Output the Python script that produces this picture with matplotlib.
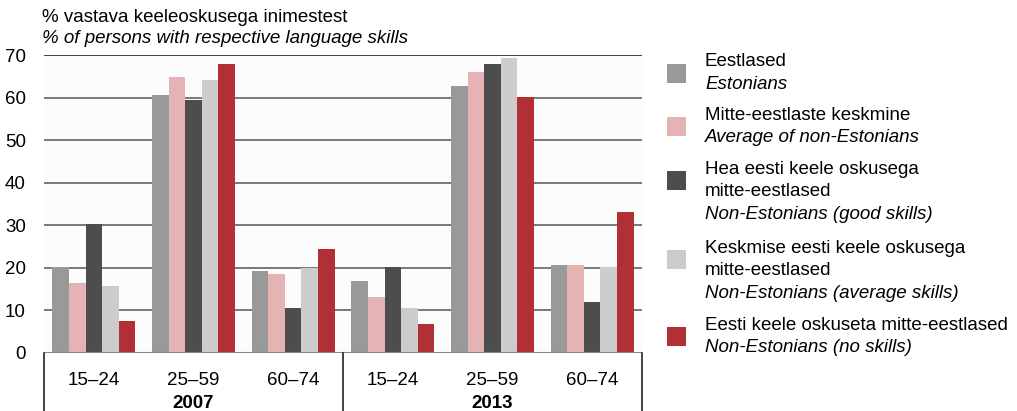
import matplotlib
matplotlib.use("Agg")
import matplotlib.pyplot as plt
import matplotlib.transforms as mtransforms
from matplotlib.patches import Rectangle
import numpy as np

plt.rcParams['font.family'] = ['Liberation Sans', 'DejaVu Sans']

# Data
years = ["2007", "2013"]
age_groups = ["15–24", "25–59", "60–74"]
legend_est = [
    "Eestlased",
    "Mitte-eestlaste keskmine",
    "Hea eesti keele oskusega\nmitte-eestlased",
    "Keskmise eesti keele oskusega\nmitte-eestlased",
    "Eesti keele oskuseta mitte-eestlased",
]
legend_eng = [
    "Estonians",
    "Average of non-Estonians",
    "Non-Estonians (good skills)",
    "Non-Estonians (average skills)",
    "Non-Estonians (no skills)",
]
colors = ["#999999", "#e5b3b3", "#4d4d4d", "#cccccc", "#b03035"]

# values per series, order: 2007 (15–24, 25–59, 60–74), 2013 (15–24, 25–59, 60–74)
estonians     = [20.1, 60.7, 19.2, 16.9, 62.6, 20.6]
non_est_avg   = [16.4, 64.9, 18.5, 13.1, 66.1, 20.6]
good_skills   = [30.3, 59.3, 10.5, 20.2, 68.0, 11.9]
avg_skills    = [15.7, 64.2, 20.0, 10.5, 69.4, 20.2]
no_skills     = [7.4, 68.0, 24.4, 6.7, 60.2, 33.1]
series = [estonians, non_est_avg, good_skills, avg_skills, no_skills]

yticks = [0, 10, 20, 30, 40, 50, 60, 70]

FS = 13.5
W, H = 1017, 411
fig = plt.figure(figsize=(W / 100, H / 100), dpi=100)
ax = fig.add_axes([44 / W, (H - 352.5) / H, (642 - 44) / W, (352.5 - 55) / H])
ax.set_facecolor("#fcfcfc")

n_cat = len(years) * len(age_groups)
x = np.arange(n_cat)
bw = 0.167
for i, (vals, c) in enumerate(zip(series, colors)):
    ax.bar(x + (i - 2) * bw, vals, width=bw, color=c, zorder=3, linewidth=0)

ax.set_xlim(-0.5, n_cat - 0.5)
ax.set_ylim(0, 70)

# gridlines
for v in yticks[1:]:
    ax.axhline(v, color="#111111" if v == 70 else "#555555", lw=1.1, zorder=1)
ax.axhline(0, color="#888888", lw=1.5, zorder=4)

for s in ax.spines.values():
    s.set_visible(False)

ax.set_yticks(yticks)
ax.set_yticklabels([str(v) for v in yticks], fontsize=FS)
ax.tick_params(axis="y", length=0, pad=13)

ax.set_xticks(x)
ax.set_xticklabels(age_groups * len(years), fontsize=FS)
ax.tick_params(axis="x", length=0, pad=14)

trans = mtransforms.blended_transform_factory(ax.transData, ax.transAxes)
for k, yr in enumerate(years):
    ax.text(1 + 3 * k, -0.17, yr, transform=trans, ha="center", va="center",
            fontsize=FS, fontweight="bold")
for xb in [-0.5, 2.5, 5.5]:
    ax.plot([xb, xb], [0, -0.2], transform=trans, color="#222222", lw=1.2,
            clip_on=False, zorder=5)

# axis title
fig.text(42 / W, 1 - 17 / H, "% vastava keeleoskusega inimestest",
         fontsize=FS, ha="left", va="center")
fig.text(42 / W, 1 - 38.5 / H, "% of persons with respective language skills",
         fontsize=FS, ha="left", va="center", style="italic")

# legend
sq = 19
first_line_y = [62, 115, 169, 248, 325]
line_h = 22.5
for c, y0, est, eng in zip(colors, first_line_y, legend_est, legend_eng):
    yc = y0 + line_h / 2
    fig.add_artist(Rectangle((667 / W, 1 - (yc + sq / 2) / H), sq / W, sq / H,
                             transform=fig.transFigure, color=c, lw=0))
    lines = est.split("\n")
    for j, line in enumerate(lines):
        fig.text(705 / W, 1 - (y0 + j * line_h) / H, line, fontsize=FS,
                 ha="left", va="center")
    fig.text(705 / W, 1 - (y0 + len(lines) * line_h) / H, eng, fontsize=FS,
             ha="left", va="center", style="italic")

fig.savefig("out.png", dpi=100)
